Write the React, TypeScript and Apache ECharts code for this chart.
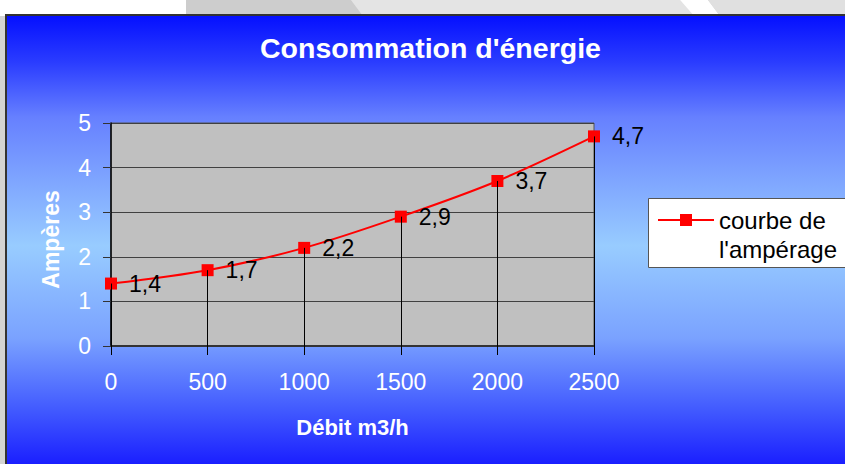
import React, { useEffect, useRef } from "react";
import * as echarts from "echarts";

const TITLE = "Consommation d'énergie";
const X_NAME = "Débit m3/h";
const Y_NAME = "Ampères";
const SERIES_NAME = "courbe de\nl'ampérage";
const debit = [0, 500, 1000, 1500, 2000, 2500];
const amperes = [1.4, 1.7, 2.2, 2.9, 3.7, 4.7];

const FONT = "Liberation Sans, Arial, sans-serif";

export default function App() {
  const ref = useRef<HTMLDivElement>(null);
  useEffect(() => {
    if (!ref.current) return;
    const chart = echarts.init(ref.current, undefined, { renderer: "svg" });
    const pts = debit.map((x, i) => [x, amperes[i]]);
    chart.setOption({
      animation: false,
      backgroundColor: "#d4d4d4",
      graphic: [
        { type: "rect", z: -100, silent: true, shape: { x: 0, y: 0, width: 186, height: 16 }, style: { fill: "#ffffff" } },
        { type: "polygon", z: -100, silent: true, shape: { points: [[186, 0], [351, 0], [363, 16], [186, 16]] }, style: { fill: "#cdcdcd" } },
        { type: "polygon", z: -100, silent: true, shape: { points: [[351, 0], [680, 0], [694, 16], [363, 16]] }, style: { fill: "#e4e4e4" } },
        { type: "polygon", z: -100, silent: true, shape: { points: [[680, 0], [708, 0], [720, 16], [694, 16]] }, style: { fill: "#ffffff" } },
        { type: "polygon", z: -100, silent: true, shape: { points: [[708, 0], [845, 0], [845, 16], [720, 16]] }, style: { fill: "#e0e0e0" } },
        { type: "rect", z: -100, silent: true, shape: { x: 5, y: 14, width: 845, height: 460 }, style: { fill: "#333333" } },
        {
          type: "rect", z: -99, silent: true,
          shape: { x: 7, y: 16, width: 845, height: 460 },
          style: {
            fill: new echarts.graphic.LinearGradient(0, 0, 0, 1, [
              { offset: 0, color: "#0510ff" },
              { offset: 0.1, color: "#2a3cff" },
              { offset: 0.22, color: "#6680ff" },
              { offset: 0.5, color: "#98ccff" },
              { offset: 0.7, color: "#7aa2ff" },
              { offset: 0.86, color: "#4058ff" },
              { offset: 1, color: "#1212ff" },
            ]),
          },
        },
        {
          type: "rect", z: -98, silent: true,
          shape: { x: 648.5, y: 198.5, width: 220, height: 69 },
          style: { fill: "#ffffff", stroke: "#555555", lineWidth: 1 },
        },
      ],
      title: {
        text: TITLE,
        left: 260,
        top: 33,
        padding: 0,
        textStyle: { color: "#ffffff", fontSize: 28.5, fontWeight: "bold", fontFamily: FONT },
      },
      legend: {
        left: 657,
        top: 176.5,
        orient: "vertical",
        selectedMode: false,
        data: [SERIES_NAME],
        itemWidth: 56,
        itemHeight: 15,
        padding: 0,
        formatter: (name: string) => "\n" + name,
        textStyle: { color: "#000000", fontSize: 24, fontFamily: FONT, lineHeight: 29 },
      },
      grid: {
        left: 111,
        right: 251,
        top: 123,
        bottom: 118,
        show: true,
        backgroundColor: "#c0c0c0",
        borderColor: "#555555",
        borderWidth: 1,
      },
      xAxis: {
        type: "value",
        min: 0,
        max: 2500,
        interval: 500,
        name: X_NAME,
        nameLocation: "middle",
        nameGap: 70,
        nameTextStyle: { color: "#ffffff", fontSize: 22, fontWeight: "bold", fontFamily: FONT },
        axisLine: { show: true, lineStyle: { color: "#333333", width: 2 } },
        axisTick: { show: true, length: 9, lineStyle: { color: "#000000", width: 1 } },
        axisLabel: { color: "#ffffff", fontSize: 23, fontFamily: FONT, margin: 24, formatter: (v: number) => String(v) },
        splitLine: { show: false },
      },
      yAxis: {
        type: "value",
        min: 0,
        max: 5,
        interval: 1,
        name: Y_NAME,
        nameLocation: "middle",
        nameGap: 49,
        nameRotate: 90,
        nameTextStyle: { color: "#ffffff", fontSize: 23, fontWeight: "bold", fontFamily: FONT, padding: [0, 10, 0, 0] },
        axisLine: { show: true, lineStyle: { color: "#000000", width: 1.5 } },
        axisTick: { show: true, length: 8, lineStyle: { color: "#333333", width: 1 } },
        axisLabel: { color: "#ffffff", fontSize: 23, fontFamily: FONT, margin: 20 },
        splitLine: { show: true, lineStyle: { color: "#404040", width: 1 } },
      },
      series: [
        {
          name: SERIES_NAME,
          type: "line",
          data: pts,
          smooth: 0.3,
          symbol: "rect",
          symbolSize: 12,
          itemStyle: { color: "#ff0000" },
          lineStyle: { color: "#ff0000", width: 2 },
          label: {
            show: true,
            position: "right",
            distance: 12,
            color: "#000000",
            fontSize: 23,
            fontFamily: FONT,
            formatter: (p: any) => String(p.value[1]).replace(".", ","),
          },
          markLine: {
            silent: true,
            symbol: ["none", "none"],
            label: { show: false },
            lineStyle: { color: "#000000", width: 1, type: "solid" },
            data: pts.map((p) => [{ coord: [p[0], 0] }, { coord: [p[0], p[1]] }]),
          },
        },
      ],
    });
    return () => chart.dispose();
  }, []);
  return <div ref={ref} style={{ position: "absolute", left: 0, top: 0, width: 845, height: 464 }} />;
}
